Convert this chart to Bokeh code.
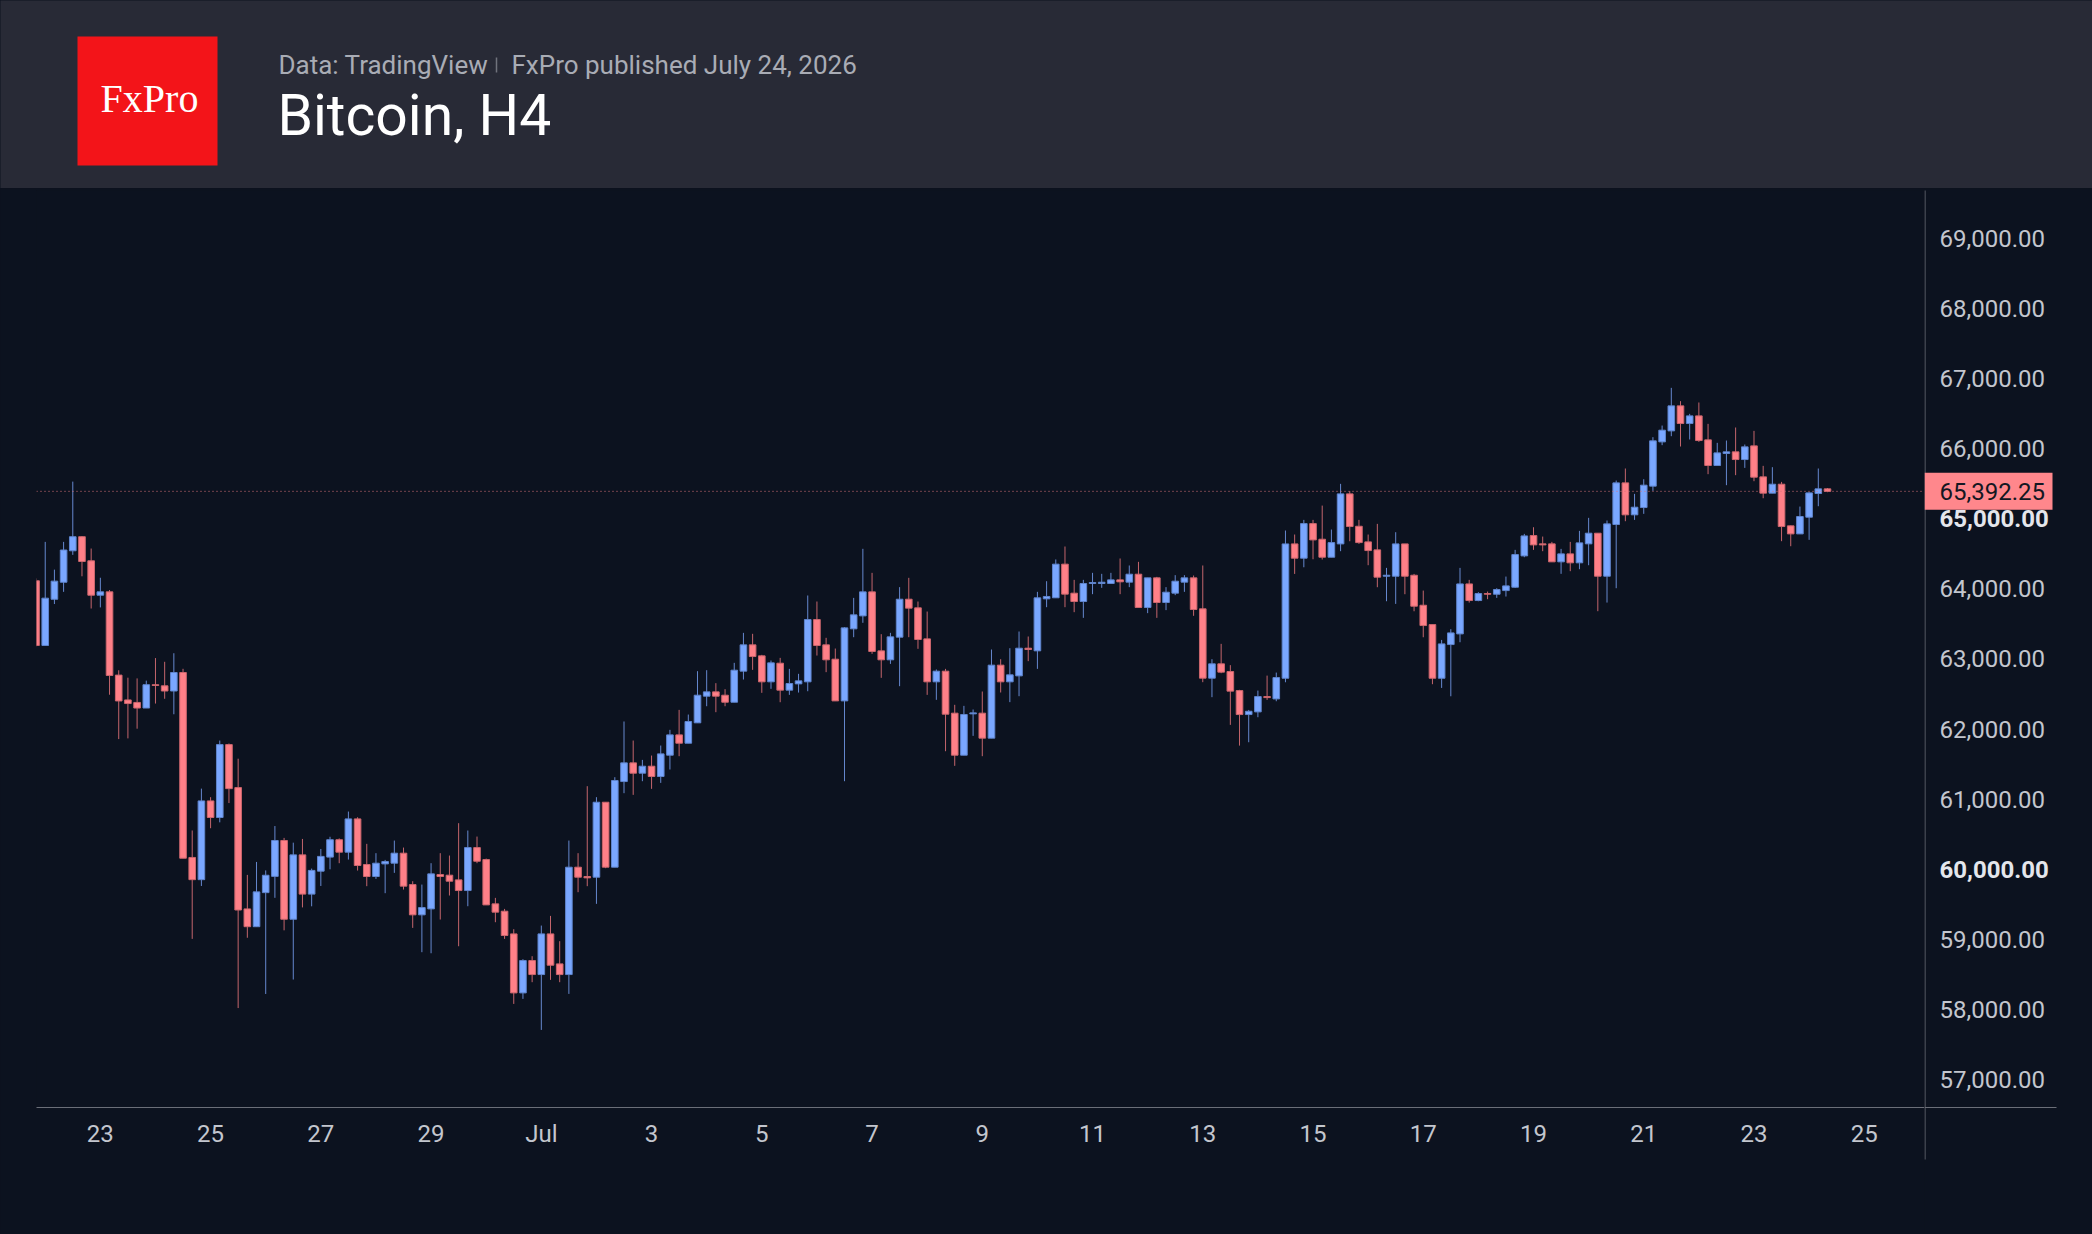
import datetime as dt
from bokeh.plotting import figure
from bokeh.models import Range1d, FixedTicker, Span, ColumnDataSource
from bokeh.layouts import column, row
from bokeh.embed import file_html
from bokeh.resources import INLINE
from bokeh.core.properties import value

# ---------------- data (Bitcoin, H4 candles) ----------------
opens = [64116, 63193, 63852, 64095, 64544, 64745, 64401, 63910, 63958, 62770,
         62416, 62380, 62300, 62633, 62617, 62543, 62807, 60168, 59851, 60975,
         60738, 61778, 61165, 59434, 59180, 59666, 59898, 60410, 59286, 60205,
         59645, 59972, 60173, 60421, 60243, 60718, 60067, 59896, 60076, 60086,
         60229, 59781, 59349, 59434, 59924, 59915, 59848, 59696, 60309, 60138,
         59506, 59401, 59077, 58235, 58697, 58497, 59077, 58649, 58497, 60029,
         59896, 59886, 60956, 60029, 61251, 61518, 61370, 61470, 61323, 61627,
         61917, 61798, 62089, 62469, 62531, 62483, 62383, 62826, 63202, 63045,
         62674, 62940, 62555, 62645, 62674, 63563, 63202, 62997, 62402, 63430,
         63615, 63958, 63116, 62988, 63311, 63853, 63730, 63287, 62674, 62826,
         62227, 61627, 62217, 62227, 61870, 62912, 62674, 62759, 63154, 63116,
         63858, 63873, 64353, 63939, 63820, 64077, 64077, 64077, 64129, 64096,
         64210, 63735, 64158, 63806, 63939, 64096, 64158, 63716, 62726, 62931,
         62821, 62549, 62207, 62245, 62464, 62430, 62725, 64642, 64438, 64932,
         64709, 64452, 64642, 65356, 64894, 64671, 64557, 64181, 64181, 64642,
         64195, 63767, 63491, 62725, 63206, 63358, 64071, 63834, 63934, 63924,
         63976, 64024, 64471, 64761, 64643, 64643, 64386, 64500, 64372, 64643,
         64795, 64181, 64919, 65513, 65057, 65161, 65466, 66098, 66255, 66612,
         66360, 66469, 66127, 65761, 65932, 65956, 65846, 66041, 65599, 65366,
         65494, 64900, 64785, 65023, 65361, 65428]
highs = [64150, 64671, 64275, 64671, 65531, 64755, 64576, 64159, 63984, 62839,
         62733, 62723, 62691, 63013, 62960, 63082, 62860, 60553, 61150, 61028,
         61836, 61794, 61577, 59919, 60104, 59983, 60616, 60447, 60379, 60432,
         60009, 60289, 60463, 60440, 60823, 60742, 60362, 60229, 60133, 60409,
         60309, 59829, 59781, 60086, 60229, 60195, 60657, 60552, 60466, 60152,
         59591, 59434, 59144, 58716, 58759, 59196, 59334, 58973, 60409, 60229,
         61185, 61028, 60956, 61313, 62108, 61836, 61560, 61622, 61765, 61989,
         62274, 62207, 62826, 62840, 62655, 62569, 62945, 63373, 63359, 63059,
         62978, 63016, 62859, 62788, 63906, 63820, 63302, 63149, 63454, 63872,
         64572, 64229, 63354, 63373, 64025, 64158, 63820, 63677, 62850, 62859,
         62346, 62331, 62279, 62536, 63135, 62997, 63154, 63392, 63321, 63958,
         64110, 64420, 64605, 64129, 64129, 64229, 64215, 64229, 64434, 64334,
         64386, 64158, 64172, 64025, 64196, 64196, 64191, 64334, 62997, 63216,
         62912, 62560, 62273, 62549, 62763, 62806, 64833, 64776, 64985, 64985,
         65189, 64847, 65499, 65394, 64985, 64776, 64928, 64300, 64809, 64642,
         64214, 63976, 63491, 63272, 63425, 64300, 64129, 63953, 63962, 64010,
         64176, 64557, 64785, 64880, 64747, 64671, 64571, 64671, 64828, 65014,
         64795, 64976, 65546, 65718, 65356, 65565, 66165, 66331, 66869, 66679,
         66498, 66660, 66355, 66084, 66117, 66303, 66060, 66255, 65756, 65737,
         65527, 64904, 65175, 65380, 65718, 65440]
lows = [63180, 63193, 63784, 63958, 64486, 64180, 63720, 63736, 62490, 61857,
        61867, 62005, 62300, 62364, 62432, 62211, 60157, 59006, 59761, 60585,
        60669, 60944, 58019, 59022, 59180, 58220, 59592, 59128, 58426, 59455,
        59471, 59761, 59999, 60086, 60138, 59981, 59758, 59862, 59658, 59948,
        59710, 59163, 58816, 58801, 59282, 59625, 58901, 59472, 60086, 59491,
        59244, 59006, 58078, 58150, 58388, 57707, 58421, 58388, 58221, 59672,
        59758, 59506, 60015, 60029, 61085, 61061, 61256, 61147, 61232, 61423,
        61613, 61798, 62089, 62326, 62241, 62326, 62383, 62707, 62845, 62517,
        62574, 62383, 62488, 62521, 62540, 63049, 62812, 62402, 61256, 63311,
        63516, 63073, 62731, 62930, 62612, 63311, 63145, 62488, 62417, 61684,
        61475, 61627, 61903, 61613, 61870, 62522, 62384, 62469, 62969, 62859,
        63739, 63873, 63739, 63668, 63587, 63925, 64015, 64077, 63925, 64025,
        63735, 63654, 63587, 63697, 63911, 63958, 63616, 62669, 62455, 62797,
        62060, 61764, 61812, 62169, 62416, 62397, 62668, 64214, 64309, 64423,
        64419, 64452, 64538, 64680, 64642, 64338, 64024, 63824, 63786, 63924,
        63681, 63310, 62640, 62587, 62468, 63239, 63805, 63824, 63853, 63872,
        63891, 64014, 64452, 64557, 64538, 64386, 64215, 64253, 64281, 64338,
        63682, 63805, 64010, 64966, 64985, 65071, 65399, 66051, 66179, 66032,
        66132, 66098, 65637, 65761, 65480, 65623, 65727, 65537, 65294, 65366,
        64681, 64609, 64785, 64700, 65180, 65380]
closes = [63193, 63868, 64111, 64555, 64745, 64391, 63910, 63958, 62765, 62401,
          62364, 62300, 62633, 62622, 62543, 62807, 60157, 59851, 60975, 60738,
          61778, 61150, 59418, 59180, 59677, 59914, 60410, 59286, 60205, 59645,
          59983, 60183, 60421, 60243, 60718, 60053, 59896, 60086, 60110, 60229,
          59758, 59349, 59453, 59934, 59896, 59829, 59696, 60309, 60114, 59491,
          59387, 59054, 58235, 58697, 58497, 59077, 58630, 58497, 60029, 59886,
          59877, 60956, 60029, 61266, 61518, 61370, 61470, 61323, 61646, 61917,
          61798, 62108, 62483, 62531, 62469, 62383, 62840, 63202, 63035, 62674,
          62945, 62555, 62650, 62688, 63563, 63192, 62988, 62402, 63444, 63630,
          63958, 63107, 62988, 63316, 63853, 63725, 63278, 62674, 62826, 62212,
          61627, 62208, 62231, 61870, 62912, 62674, 62774, 63154, 63135, 63873,
          63892, 64353, 63925, 63820, 64077, 64091, 64095, 64129, 64101, 64210,
          63735, 64158, 63806, 63953, 64110, 64158, 63706, 62726, 62931, 62812,
          62541, 62207, 62254, 62464, 62449, 62735, 64642, 64438, 64932, 64699,
          64452, 64661, 65356, 64890, 64661, 64547, 64167, 64195, 64642, 64181,
          63753, 63477, 62725, 63215, 63372, 64071, 63834, 63934, 63924, 63991,
          64043, 64490, 64756, 64628, 64628, 64386, 64500, 64372, 64657, 64795,
          64181, 64928, 65513, 65057, 65166, 65480, 66113, 66265, 66612, 66360,
          66469, 66117, 65761, 65941, 65956, 65846, 66027, 65594, 65366, 65494,
          64890, 64785, 65033, 65370, 65428, 65392.25]

start_time = dt.datetime(2026, 6, 21, 20, 0)
bar_hours = 4
tick_dates = ([dt.datetime(2026, 6, d) for d in (23, 25, 27, 29)] +
              [dt.datetime(2026, 7, d) for d in range(1, 26, 2)])
tick_labels = ["23", "25", "27", "29", "Jul", "3", "5", "7", "9", "11", "13",
               "15", "17", "19", "21", "23", "25"]
price_ticks = list(range(57000, 70000, 1000))
bold_prices = [60000, 65000]
last_price = 65392.25

title_text = "Bitcoin, H4"
source_text = "Data: TradingView"
published_text = "FxPro published July 24, 2026"
logo_text = "FxPro"

# ---------------- style ----------------
HEAD_BG = "#282a36"
CHART_BG = "#0c121f"
UP_FILL, UP_LINE, UP_WICK = "#7aa7ff", "#5f84cc", "#6688cf"
DN_FILL, DN_LINE, DN_WICK = "#ff8088", "#cc666d", "#c4656c"
AXIS_COL = "#6b6e78"
LABEL_COL = "#c3c6ce"
BOLD_COL = "#e4e6ec"
TAG_COL = "#ff878c"
FONT = "Roboto"

TOTAL_W = 2092
HEAD_H = 188
CHART_H = 1046
AXIS_W = 168
CHART_W = TOTAL_W - AXIS_W
ML, MT, MB = 36, 2, 127
frame_w = CHART_W - ML
frame_h = CHART_H - MT - MB

n = len(opens)
idx = list(range(n))
inc = [c >= o for o, c in zip(opens, closes)]
src = ColumnDataSource(dict(
    x=idx, o=opens, h=highs, l=lows, c=closes,
    top=[max(o, c) for o, c in zip(opens, closes)],
    bot=[min(o, c) for o, c in zip(opens, closes)],
    fill=[UP_FILL if u else DN_FILL for u in inc],
    line=[UP_LINE if u else DN_LINE for u in inc],
    wick=[UP_WICK if u else DN_WICK for u in inc],
))

x0, x1 = 0.05, 205.56
y0, y1 = 56600, 69685
ypp = (y1 - y0) / frame_h

# ---------------- main chart ----------------
p = figure(width=CHART_W, height=CHART_H, x_range=Range1d(x0, x1), y_range=Range1d(y0, y1),
           output_backend="svg", toolbar_location=None, y_axis_location=None,
           min_border_left=ML, min_border_right=0, min_border_top=MT,
           min_border_bottom=MB, background_fill_color=CHART_BG,
           border_fill_color=CHART_BG, outline_line_color=None)
p.grid.visible = False

p.segment(x0="x", y0="l", x1="x", y1="h", source=src, line_color="wick", line_width=1)
p.vbar(x="x", width=0.72, top="top", bottom="bot", source=src,
       fill_color="fill", line_color="line", line_width=1)

p.add_layout(Span(location=last_price, dimension="width", line_color="#d9737a",
                  line_width=1, line_dash="1 3"))

tick_pos = [int(round((d - start_time).total_seconds() / 3600 / bar_hours)) for d in tick_dates]
ax = p.xaxis[0]
ax.ticker = FixedTicker(ticks=tick_pos)
ax.major_label_overrides = {pos: lab for pos, lab in zip(tick_pos, tick_labels)}
ax.axis_line_color = AXIS_COL
ax.axis_line_width = 1
ax.major_tick_line_color = None
ax.minor_tick_line_color = None
ax.major_tick_in = 0
ax.major_tick_out = 0
ax.major_label_standoff = 12
ax.major_label_text_font = FONT
ax.major_label_text_font_size = "24px"
ax.major_label_text_color = LABEL_COL

# ---------------- price scale panel (right) ----------------
py_top = y1 + MT * ypp
py_bot = y0 - MB * ypp
q = figure(width=AXIS_W, height=CHART_H, x_range=Range1d(0, AXIS_W),
           y_range=Range1d(py_bot, py_top), output_backend="svg", toolbar_location=None,
           min_border=0, background_fill_color=CHART_BG, border_fill_color=CHART_BG,
           outline_line_color=None, x_axis_location=None, y_axis_location=None)
q.grid.visible = False
for fig in (p, q):
    try:
        fig.frame_align = False
    except Exception:
        pass

# scale lines (price axis line and the continuation of the time axis)
q.segment(x0=[0.5], y0=[y1], x1=[0.5], y1=[y0 - 52 * ypp], line_color=AXIS_COL, line_width=1)
q.segment(x0=[0], y0=[y0], x1=[132], y1=[y0], line_color=AXIS_COL, line_width=1)

reg = [v for v in price_ticks if v not in bold_prices]
q.text(x=[15] * len(reg), y=reg, text=["{:,.2f}".format(v) for v in reg],
       text_font=value(FONT), text_font_size="24px", text_color=LABEL_COL,
       text_align="left", text_baseline="middle")
q.text(x=[15] * len(bold_prices), y=bold_prices, text=["{:,.2f}".format(v) for v in bold_prices],
       text_font=value(FONT), text_font_size="24px", text_font_style="bold",
       text_color=BOLD_COL, text_align="left", text_baseline="middle")

q.quad(left=[0], right=[128], bottom=[last_price - 18.5 * ypp], top=[last_price + 18.5 * ypp],
       fill_color=TAG_COL, line_color=None)
q.text(x=[15], y=[last_price], text=["{:,.2f}".format(last_price)], text_font=value(FONT),
       text_font_size="24px", text_color="#131722", text_align="left", text_baseline="middle")

# ---------------- header ----------------
h = figure(width=TOTAL_W, height=HEAD_H, x_range=Range1d(0, TOTAL_W), y_range=Range1d(HEAD_H, 0),
           output_backend="svg", toolbar_location=None, min_border=0,
           background_fill_color=HEAD_BG, border_fill_color=HEAD_BG, outline_line_color=None,
           x_axis_location=None, y_axis_location=None)
h.grid.visible = False
try:
    h.frame_align = False
except Exception:
    pass
h.quad(left=[77], right=[217], top=[36], bottom=[165], fill_color="#f31419", line_color=None)
h.text(x=[149], y=[98], text=[logo_text], text_font=value("Liberation Serif"),
       text_font_size="40px", text_color="#ffffff", text_align="center",
       text_baseline="middle")
h.text(x=[278], y=[64], text=[source_text], text_font=value(FONT), text_font_size="26px",
       text_color="#a9acb5", text_align="left", text_baseline="middle")
h.segment(x0=[496], y0=[57], x1=[496], y1=[72], line_color="#70737d", line_width=1.5)
h.text(x=[511], y=[64], text=[published_text], text_font=value(FONT), text_font_size="26px",
       text_color="#a9acb5", text_align="left", text_baseline="middle")
h.text(x=[277], y=[115], text=[title_text], text_font=value(FONT), text_font_size="57px",
       text_color="#ffffff", text_align="left", text_baseline="middle")

layout = column(h, row(p, q, spacing=0), spacing=0)
html = file_html(layout, INLINE, title="Bitcoin, H4")
html = html.replace("</head>",
                    "<style>html,body{background-color:%s;}</style></head>" % CHART_BG, 1)
open("out.html", "w").write(html)
